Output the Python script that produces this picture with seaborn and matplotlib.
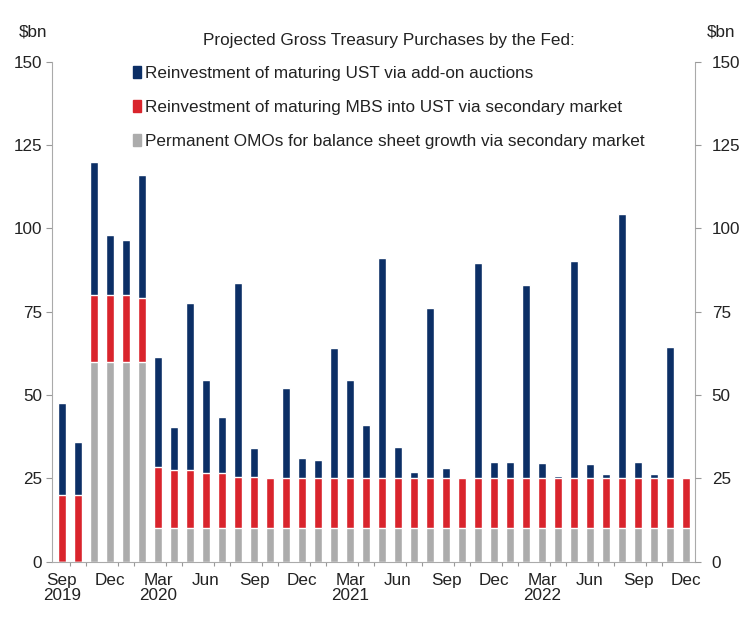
import matplotlib
matplotlib.use('Agg')
import matplotlib.pyplot as plt
import matplotlib.patches as mpatches
from matplotlib import font_manager
import seaborn as sns
import pandas as pd
import numpy as np

# monthly, Sep 2019 .. Dec 2022
months = ['2019-09', '2019-10', '2019-11', '2019-12',
          '2020-01', '2020-02', '2020-03', '2020-04', '2020-05', '2020-06',
          '2020-07', '2020-08', '2020-09', '2020-10', '2020-11', '2020-12',
          '2021-01', '2021-02', '2021-03', '2021-04', '2021-05', '2021-06',
          '2021-07', '2021-08', '2021-09', '2021-10', '2021-11', '2021-12',
          '2022-01', '2022-02', '2022-03', '2022-04', '2022-05', '2022-06',
          '2022-07', '2022-08', '2022-09', '2022-10', '2022-11', '2022-12']

# $bn
omo = [0, 0, 60, 60, 60, 60,
       10, 10, 10, 10, 10, 10, 10, 10, 10, 10, 10, 10, 10, 10,
       10, 10, 10, 10, 10, 10, 10, 10, 10, 10, 10, 10, 10, 10,
       10, 10, 10, 10, 10, 10]
mbs = [20, 20, 20, 20, 20, 19,
       18.5, 17.5, 17.5, 16.5, 16.5, 15.5, 15.5, 15, 15, 15, 15, 15, 15, 15,
       15, 15, 15, 15, 15, 15, 15, 15, 15, 15, 15, 15, 15, 15,
       15, 15, 15, 15, 15, 15]
ust = [27.5, 16, 40, 18, 16.5, 37,
       33, 13, 50, 28, 17, 58, 8.5, 0, 27, 6, 5.5, 39, 29.5, 16,
       66, 9.5, 2, 51, 3, 0, 64.5, 5, 5, 58, 4.5, 0.8, 65.3, 4.2,
       1.3, 79.3, 4.8, 1.3, 39.4, 0]

tick_pos = [0, 3, 6, 9, 12, 15, 18, 21, 24, 27, 30, 33, 36, 39]
tick_labels = ['Sep\n2019', 'Dec', 'Mar\n2020', 'Jun', 'Sep', 'Dec',
               'Mar\n2021', 'Jun', 'Sep', 'Dec', 'Mar\n2022', 'Jun', 'Sep', 'Dec']

labels = ['Reinvestment of maturing UST via add-on auctions',
          'Reinvestment of maturing MBS into UST via secondary market',
          'Permanent OMOs for balance sheet growth via secondary market']
colors = ['#0c2f66', '#d9242c', '#acacac']

df = pd.DataFrame({'month': months, 'omo': omo, 'mbs': mbs, 'ust': ust})
df['lvl2'] = df['omo'] + df['mbs']
df['lvl3'] = df['lvl2'] + df['ust']

sns.set_theme(style='white')
installed = {f.name for f in font_manager.fontManager.ttflist}
if 'Liberation Sans Narrow' in installed:
    plt.rcParams['font.family'] = ['Liberation Sans Narrow', 'DejaVu Sans']
    fs = 13.5
else:
    plt.rcParams['font.family'] = ['Liberation Sans', 'DejaVu Sans']
    fs = 12.3
txt = '#222222'

fig = plt.figure(figsize=(7.39, 6.33), dpi=100)
ax = fig.add_axes([0.0704, 0.1126, 0.8701, 0.7899])

w = 0.55
sns.barplot(data=df, x='month', y='lvl3', color=colors[0], width=w, saturation=1, ax=ax)
sns.barplot(data=df, x='month', y='lvl2', color=colors[1], width=w, saturation=1, ax=ax)
sns.barplot(data=df, x='month', y='omo', color=colors[2], width=w, saturation=1, ax=ax)

ax.set_xlim(-0.62, 39.56)
ax.set_ylim(0, 150)
ax.set_xlabel('')
ax.set_ylabel('')
yt = [0, 25, 50, 75, 100, 125, 150]
ax.set_yticks(yt)
ax.set_yticklabels([str(v) for v in yt], fontsize=fs, color=txt)
ax.tick_params(axis='y', length=4, color='#999999', width=0.8, pad=3)

# month boundary ticks on the axis, labels on bar centres
ax.set_xticks([i - 0.5 for i in tick_pos] + [39.5])
ax.set_xticklabels([])
ax.set_xticks(np.arange(-0.5, 40, 1), minor=True)
ax.tick_params(axis='x', which='major', length=6, color='#999999', width=0.8)
ax.tick_params(axis='x', which='minor', length=3, color='#999999', width=0.8, bottom=True)
sec = ax.secondary_xaxis('bottom')
sec.set_xticks(tick_pos)
sec.set_xticklabels(tick_labels, fontsize=fs, color=txt, linespacing=1.0)
sec.tick_params(length=0, pad=8)
sec.spines['bottom'].set_visible(False)

for s in ['left', 'right', 'bottom']:
    ax.spines[s].set_color('#aaaaaa')
    ax.spines[s].set_linewidth(0.8)
ax.spines['top'].set_visible(False)

ax2 = ax.twinx()
ax2.set_ylim(0, 150)
ax2.set_yticks(yt)
ax2.set_yticklabels([str(v) for v in yt], fontsize=fs, color=txt)
ax2.tick_params(axis='y', length=4, color='#999999', width=0.8, pad=8)
for s in ['left', 'right', 'bottom', 'top']:
    ax2.spines[s].set_visible(False)
ax2.grid(False)

ax.text(-0.03, 1.045, '\\$bn', transform=ax.transAxes, fontsize=fs, ha='center', va='bottom', color=txt)
ax.text(1.04, 1.045, '\\$bn', transform=ax.transAxes, fontsize=fs, ha='center', va='bottom', color=txt)

handles = [mpatches.Patch(color=c, label=l) for c, l in zip(colors, labels)]
leg = ax.legend(handles=handles, title='Projected Gross Treasury Purchases by the Fed:',
                loc='upper left', bbox_to_anchor=(0.115, 1.072), frameon=False,
                fontsize=fs, title_fontsize=fs, handlelength=0.5, handleheight=0.7,
                handletextpad=0.2, labelspacing=1.1, borderaxespad=0)
leg.get_title().set_color(txt)
for t in leg.get_texts():
    t.set_color(txt)

fig.savefig('out.png', dpi=100)
